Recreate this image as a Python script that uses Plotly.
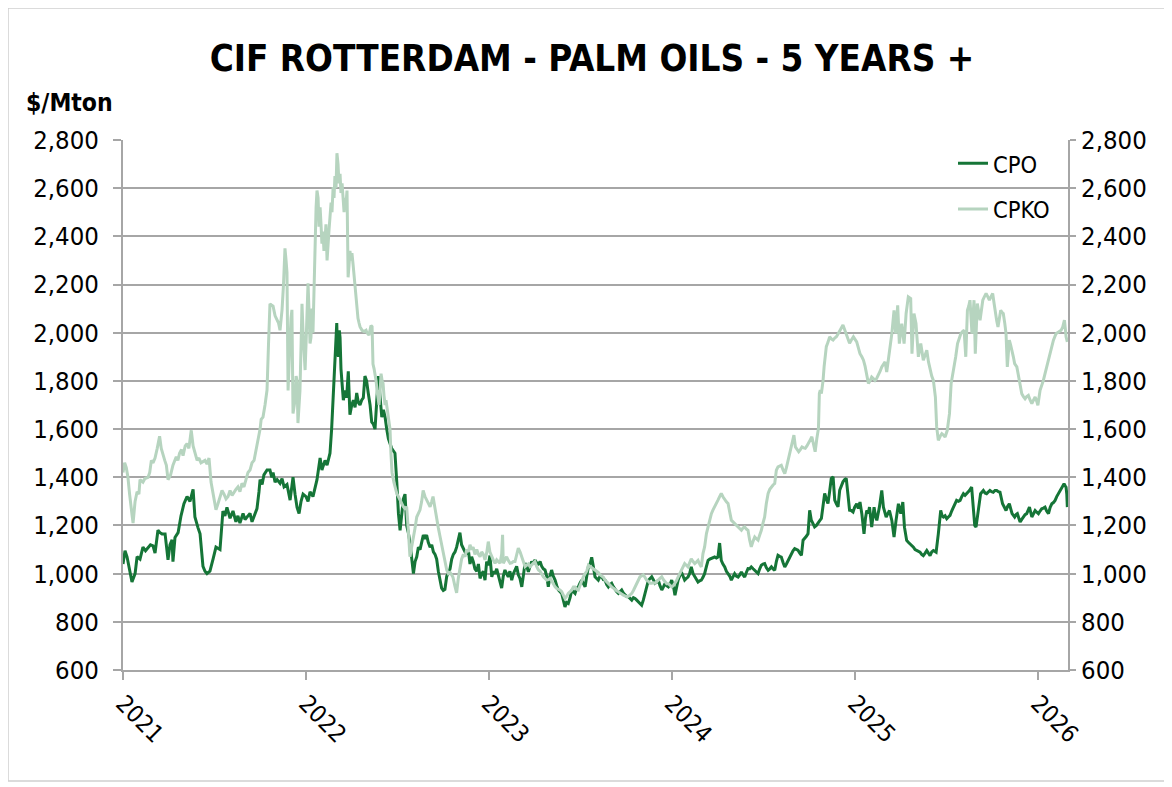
import numpy as np
import pandas as pd
import plotly.graph_objects as go

# ---- data (time as years after 1 Jan 2021, values in $/Mton) ----
cpo_t = [0.000,0.011,0.022,0.038,0.049,0.066,0.077,0.093,0.109,0.123,0.137,0.150,0.164,0.175,0.191,0.202,0.213,0.230,0.246,0.257,0.268,0.273,0.284,0.301,0.317,0.333,0.350,0.366,0.383,0.393,0.410,0.421,0.437,0.448,0.459,0.475,0.492,0.508,0.530,0.546,0.557,0.568,0.585,0.601,0.617,0.628,0.639,0.656,0.667,0.678,0.694,0.705,0.716,0.732,0.743,0.749,0.760,0.770,0.787,0.803,0.813,0.820,0.831,0.842,0.858,0.869,0.880,0.896,0.913,0.929,0.940,0.951,0.962,0.973,0.984,1.000,1.011,1.022,1.038,1.049,1.060,1.077,1.087,1.093,1.104,1.115,1.131,1.140,1.149,1.158,1.164,1.168,1.172,1.177,1.182,1.186,1.191,1.195,1.200,1.204,1.213,1.222,1.231,1.240,1.250,1.259,1.268,1.277,1.286,1.295,1.304,1.313,1.322,1.331,1.340,1.350,1.359,1.368,1.377,1.386,1.395,1.404,1.414,1.423,1.432,1.441,1.450,1.459,1.468,1.477,1.486,1.496,1.505,1.514,1.523,1.532,1.541,1.550,1.559,1.568,1.578,1.587,1.596,1.605,1.614,1.623,1.632,1.641,1.650,1.659,1.668,1.678,1.687,1.696,1.705,1.714,1.723,1.732,1.741,1.750,1.759,1.769,1.778,1.787,1.796,1.805,1.814,1.823,1.832,1.841,1.850,1.860,1.869,1.878,1.887,1.896,1.905,1.914,1.923,1.933,1.942,1.951,1.960,1.969,1.978,1.987,1.996,2.005,2.015,2.024,2.033,2.042,2.060,2.069,2.078,2.087,2.096,2.105,2.114,2.124,2.133,2.142,2.151,2.160,2.169,2.179,2.188,2.197,2.206,2.215,2.224,2.233,2.242,2.251,2.260,2.270,2.279,2.288,2.297,2.306,2.315,2.324,2.333,2.342,2.351,2.361,2.370,2.379,2.388,2.397,2.406,2.415,2.424,2.433,2.443,2.452,2.461,2.470,2.479,2.488,2.497,2.506,2.515,2.525,2.534,2.543,2.552,2.561,2.570,2.579,2.588,2.597,2.607,2.616,2.625,2.634,2.643,2.652,2.661,2.670,2.680,2.689,2.698,2.707,2.716,2.725,2.734,2.743,2.752,2.761,2.770,2.780,2.789,2.798,2.807,2.816,2.825,2.834,2.843,2.852,2.861,2.871,2.880,2.889,2.898,2.907,2.916,2.925,2.934,2.944,2.953,2.962,2.971,2.980,2.989,2.998,3.007,3.016,3.024,3.033,3.042,3.051,3.060,3.069,3.078,3.087,3.096,3.105,3.115,3.124,3.133,3.142,3.151,3.160,3.169,3.178,3.188,3.197,3.206,3.215,3.224,3.233,3.242,3.251,3.260,3.269,3.278,3.288,3.297,3.306,3.315,3.324,3.333,3.342,3.351,3.361,3.370,3.379,3.388,3.397,3.406,3.415,3.424,3.433,3.443,3.452,3.461,3.470,3.479,3.488,3.497,3.506,3.515,3.525,3.534,3.543,3.552,3.561,3.570,3.579,3.588,3.597,3.607,3.616,3.625,3.634,3.643,3.652,3.661,3.670,3.679,3.688,3.698,3.707,3.716,3.725,3.734,3.743,3.752,3.761,3.770,3.779,3.789,3.798,3.807,3.816,3.825,3.834,3.843,3.852,3.861,3.870,3.880,3.889,3.898,3.907,3.916,3.925,3.934,3.943,3.952,3.961,3.970,3.979,3.989,3.998,4.009,4.018,4.027,4.037,4.049,4.057,4.064,4.072,4.079,4.091,4.104,4.111,4.119,4.133,4.146,4.155,4.163,4.170,4.180,4.188,4.201,4.213,4.224,4.230,4.237,4.250,4.261,4.270,4.282,4.291,4.301,4.310,4.319,4.328,4.337,4.346,4.355,4.364,4.373,4.383,4.392,4.401,4.410,4.419,4.428,4.437,4.443,4.455,4.468,4.476,4.483,4.492,4.501,4.510,4.519,4.528,4.537,4.546,4.555,4.565,4.574,4.583,4.592,4.601,4.610,4.625,4.637,4.646,4.654,4.661,4.668,4.674,4.686,4.701,4.710,4.719,4.728,4.737,4.746,4.755,4.765,4.774,4.783,4.792,4.806,4.815,4.825,4.834,4.843,4.858,4.865,4.872,4.880,4.887,4.895,4.902,4.911,4.920,4.929,4.938,4.947,4.953,4.966,4.975,4.984,4.993,5.002,5.011,5.020,5.029,5.038,5.047,5.057,5.066,5.075,5.084,5.093,5.102,5.111,5.120,5.129,5.136,5.142,5.148,5.153,5.157,5.160]
cpo_v = [1040,1095,1070,1000,965,1000,1070,1060,1110,1095,1110,1120,1115,1085,1180,1170,1165,1165,1057,1120,1140,1050,1150,1170,1240,1290,1320,1300,1350,1235,1190,1165,1030,1010,1000,1010,1060,1110,1100,1260,1240,1275,1230,1260,1215,1240,1210,1250,1225,1235,1250,1215,1240,1270,1340,1390,1370,1410,1430,1430,1400,1420,1380,1390,1375,1395,1360,1370,1305,1400,1330,1275,1250,1300,1330,1320,1300,1340,1320,1350,1390,1480,1430,1445,1470,1450,1500,1600,1750,1850,1960,2040,1920,1900,2010,1980,1850,1800,1760,1720,1760,1730,1840,1660,1700,1720,1690,1750,1710,1700,1720,1730,1820,1800,1750,1700,1630,1620,1600,1700,1820,1740,1650,1680,1650,1600,1560,1540,1520,1510,1500,1380,1250,1180,1250,1310,1330,1200,1170,1130,1060,1000,1050,1070,1110,1100,1130,1160,1150,1160,1130,1110,1120,1090,1080,1060,1010,980,940,930,935,990,1000,1020,1060,1080,1090,1110,1140,1170,1120,1100,1090,1080,1100,1040,1070,1050,1020,1010,1040,980,1000,1010,973,1050,1035,1075,987,1010,1000,1020,973,940,990,1015,1000,987,1010,973,1000,1015,1030,995,980,945,1000,1043,1030,1008,1030,1050,1040,1057,1045,1040,1050,1030,1020,1015,990,945,990,1015,990,973,950,932,925,918,890,862,880,876,900,932,925,918,940,945,960,973,960,945,990,1029,1040,1068,1030,987,980,973,990,987,975,973,955,945,955,960,945,932,925,918,925,932,920,911,905,904,895,890,900,897,890,883,875,869,890,918,950,973,980,987,975,960,965,973,950,932,945,960,950,945,955,973,950,910,940,973,990,1007,990,973,980,986,1000,1028,1000,986,975,965,970,973,985,1000,1030,1055,1060,1062,1065,1069,1065,1069,1127,1055,1040,1028,1010,1000,990,973,990,1000,990,986,995,1007,995,986,1005,1021,1020,1028,1020,1014,1008,1000,1020,1035,1040,1042,1025,1014,1020,1028,1020,1014,1050,1076,1072,1069,1045,1028,1040,1055,1070,1083,1095,1104,1100,1097,1085,1076,1139,1145,1155,1166,1263,1222,1210,1194,1200,1208,1220,1229,1280,1333,1310,1291,1340,1395,1402,1305,1290,1277,1346,1365,1381,1390,1395,1330,1263,1262,1256,1276,1290,1270,1297,1249,1165,1230,1262,1250,1276,1193,1276,1240,1221,1276,1345,1276,1250,1235,1250,1262,1221,1152,1221,1260,1290,1249,1297,1193,1138,1130,1124,1115,1110,1100,1096,1092,1089,1080,1075,1085,1096,1085,1075,1090,1096,1092,1089,1165,1262,1240,1235,1240,1228,1235,1242,1260,1276,1290,1304,1300,1304,1320,1332,1325,1332,1345,1359,1249,1200,1193,1230,1262,1332,1345,1335,1332,1340,1345,1340,1338,1345,1345,1340,1338,1290,1275,1262,1280,1290,1249,1240,1235,1245,1249,1230,1214,1225,1235,1245,1249,1265,1276,1235,1250,1262,1255,1249,1260,1269,1272,1276,1260,1249,1275,1290,1295,1304,1320,1332,1345,1359,1366,1373,1365,1359,1330,1276]

cpko_t = [0.000,0.009,0.018,0.027,0.036,0.042,0.050,0.055,0.060,0.066,0.077,0.087,0.093,0.109,0.120,0.137,0.146,0.155,0.164,0.175,0.187,0.200,0.209,0.218,0.228,0.237,0.246,0.253,0.260,0.273,0.284,0.291,0.300,0.309,0.320,0.328,0.340,0.350,0.360,0.373,0.383,0.393,0.405,0.415,0.426,0.437,0.448,0.459,0.470,0.481,0.492,0.503,0.508,0.519,0.530,0.541,0.552,0.563,0.574,0.585,0.596,0.607,0.617,0.628,0.639,0.650,0.661,0.672,0.683,0.694,0.705,0.716,0.727,0.738,0.749,0.755,0.765,0.776,0.787,0.795,0.803,0.811,0.820,0.831,0.842,0.850,0.858,0.869,0.877,0.885,0.891,0.896,0.902,0.907,0.913,0.918,0.923,0.929,0.940,0.946,0.951,0.956,0.962,0.967,0.973,0.978,0.984,0.989,0.995,1.000,1.005,1.011,1.016,1.022,1.027,1.033,1.038,1.044,1.049,1.055,1.060,1.066,1.071,1.077,1.082,1.087,1.093,1.098,1.104,1.109,1.115,1.120,1.126,1.131,1.137,1.142,1.148,1.153,1.158,1.164,1.169,1.175,1.180,1.186,1.191,1.197,1.202,1.208,1.213,1.219,1.224,1.230,1.235,1.240,1.246,1.251,1.257,1.262,1.268,1.273,1.279,1.284,1.290,1.295,1.306,1.317,1.328,1.333,1.344,1.350,1.355,1.361,1.366,1.372,1.377,1.383,1.388,1.394,1.399,1.405,1.410,1.416,1.421,1.426,1.432,1.437,1.443,1.448,1.454,1.459,1.464,1.470,1.480,1.489,1.497,1.505,1.514,1.522,1.530,1.540,1.550,1.559,1.568,1.577,1.585,1.596,1.605,1.614,1.623,1.632,1.640,1.650,1.660,1.669,1.678,1.687,1.694,1.705,1.714,1.723,1.732,1.741,1.749,1.759,1.769,1.778,1.787,1.796,1.803,1.813,1.823,1.832,1.841,1.850,1.860,1.869,1.878,1.887,1.896,1.905,1.913,1.923,1.933,1.942,1.951,1.960,1.969,1.978,1.987,1.996,2.005,2.015,2.024,2.033,2.042,2.051,2.060,2.069,2.074,2.078,2.087,2.096,2.105,2.115,2.124,2.133,2.142,2.151,2.160,2.170,2.179,2.188,2.197,2.206,2.215,2.224,2.233,2.242,2.251,2.260,2.270,2.279,2.288,2.297,2.306,2.315,2.324,2.333,2.342,2.351,2.361,2.370,2.379,2.388,2.397,2.406,2.415,2.424,2.433,2.443,2.452,2.461,2.470,2.479,2.488,2.497,2.506,2.515,2.525,2.534,2.543,2.552,2.561,2.570,2.579,2.588,2.597,2.607,2.616,2.625,2.634,2.643,2.652,2.661,2.670,2.680,2.689,2.698,2.707,2.716,2.725,2.734,2.743,2.752,2.761,2.770,2.780,2.789,2.798,2.807,2.816,2.825,2.834,2.843,2.852,2.861,2.871,2.880,2.889,2.898,2.907,2.916,2.925,2.934,2.944,2.953,2.962,2.971,2.980,2.989,2.998,3.007,3.015,3.024,3.033,3.042,3.051,3.060,3.069,3.078,3.087,3.096,3.105,3.115,3.124,3.133,3.142,3.151,3.160,3.169,3.178,3.188,3.197,3.206,3.215,3.224,3.233,3.242,3.251,3.260,3.269,3.279,3.288,3.297,3.306,3.315,3.324,3.333,3.342,3.351,3.361,3.370,3.379,3.388,3.397,3.406,3.415,3.424,3.433,3.443,3.452,3.461,3.470,3.479,3.488,3.497,3.506,3.515,3.525,3.534,3.543,3.552,3.561,3.570,3.579,3.588,3.597,3.607,3.616,3.625,3.634,3.643,3.652,3.661,3.666,3.674,3.683,3.692,3.701,3.710,3.719,3.728,3.737,3.746,3.755,3.764,3.773,3.782,3.791,3.800,3.805,3.810,3.816,3.825,3.831,3.843,3.852,3.861,3.870,3.880,3.889,3.898,3.907,3.916,3.925,3.934,3.943,3.952,3.961,3.970,3.979,3.991,4.009,4.018,4.027,4.037,4.046,4.055,4.064,4.073,4.082,4.091,4.100,4.109,4.118,4.128,4.137,4.146,4.155,4.164,4.173,4.188,4.201,4.213,4.222,4.233,4.242,4.255,4.268,4.279,4.291,4.304,4.311,4.322,4.333,4.346,4.359,4.373,4.383,4.392,4.401,4.410,4.419,4.428,4.439,4.446,4.455,4.465,4.474,4.483,4.492,4.504,4.516,4.525,4.533,4.541,4.550,4.560,4.569,4.578,4.587,4.596,4.605,4.614,4.621,4.628,4.639,4.650,4.657,4.668,4.683,4.698,4.707,4.716,4.725,4.734,4.743,4.752,4.760,4.767,4.774,4.781,4.789,4.796,4.803,4.810,4.818,4.825,4.832,4.843,4.850,4.858,4.865,4.872,4.884,4.891,4.898,4.905,4.911,4.920,4.929,4.938,4.947,4.957,4.966,4.975,4.984,4.993,4.999,5.011,5.020,5.029,5.038,5.047,5.057,5.066,5.075,5.084,5.098,5.108,5.117,5.126,5.135,5.144,5.150,5.153,5.160]
cpko_v = [1420,1460,1440,1400,1330,1300,1240,1210,1260,1300,1340,1330,1390,1380,1395,1400,1420,1470,1460,1480,1520,1570,1520,1490,1470,1450,1390,1400,1410,1450,1470,1485,1470,1500,1515,1490,1530,1540,1520,1595,1530,1500,1470,1480,1460,1465,1470,1455,1480,1380,1335,1280,1265,1290,1320,1345,1330,1310,1320,1345,1325,1340,1350,1360,1340,1375,1360,1390,1420,1430,1460,1470,1510,1555,1600,1640,1650,1700,1762,1950,2120,2115,2110,2070,2050,2040,2010,2095,2200,2350,2300,2250,1760,1900,1980,2060,2095,1665,1720,1820,1800,1625,1690,1760,1950,2120,2000,1900,1845,1950,2100,2205,2100,1955,1980,2100,2000,2200,2425,2520,2590,2560,2440,2520,2450,2370,2420,2340,2390,2450,2300,2380,2430,2480,2540,2500,2605,2560,2650,2600,2745,2700,2620,2660,2580,2620,2565,2500,2560,2540,2590,2230,2280,2340,2300,2330,2285,2240,2200,2130,2080,2060,2040,2025,2010,2005,2010,2000,1990,2010,2030,2025,1870,1850,1830,1800,1760,1730,1700,1760,1830,1800,1790,1740,1700,1720,1690,1660,1620,1600,1500,1420,1380,1350,1330,1320,1305,1290,1280,1270,1277,1180,1070,1110,1140,1190,1235,1250,1265,1300,1345,1320,1305,1290,1277,1300,1320,1270,1222,1190,1155,1120,1085,1040,1015,1000,1005,995,985,950,920,980,1030,1060,1080,1070,1100,1090,1120,1100,1110,1080,1100,1080,1070,1090,1080,1057,1085,1133,1090,1070,1055,1043,1057,1050,1043,1080,1161,1043,1060,1070,1055,1043,1045,1050,1050,1080,1106,1090,1070,1050,1029,1035,1040,1029,1035,1040,1050,1030,1015,1010,995,987,980,973,975,980,970,955,945,938,935,932,925,910,897,905,918,925,932,945,945,935,932,950,970,987,1000,1010,1035,1030,1022,1020,1015,1010,1005,995,990,985,973,965,960,953,945,940,932,928,925,918,915,911,908,904,906,910,918,930,945,960,975,987,990,995,985,973,968,960,960,962,960,965,973,980,987,975,965,958,958,950,945,950,958,970,986,1000,1014,1030,1042,1035,1028,1045,1062,1050,1042,1048,1055,1040,1028,1083,1111,1166,1194,1230,1249,1265,1277,1290,1305,1320,1333,1318,1305,1298,1291,1260,1222,1215,1208,1200,1194,1185,1180,1190,1194,1185,1180,1140,1111,1135,1152,1145,1139,1160,1180,1210,1235,1290,1333,1350,1360,1368,1374,1429,1443,1445,1450,1430,1415,1440,1471,1500,1526,1560,1575,1526,1515,1506,1515,1526,1522,1520,1530,1540,1555,1568,1540,1506,1560,1603,1748,1762,1748,1800,1859,1942,1960,1983,1975,1970,1978,1983,1995,2011,2020,2032,2015,1997,1975,1956,1969,1983,1962,1940,1913,1900,1886,1860,1830,1789,1800,1816,1810,1802,1810,1823,1840,1858,1870,1879,1837,1920,1996,2093,1996,2114,1955,2038,1955,2080,2149,2142,1913,2080,2038,1900,1955,1886,1910,1927,1880,1844,1820,1802,1733,1609,1553,1570,1581,1575,1567,1595,1664,1789,1820,1858,1900,1955,1975,1996,2005,2010,1900,2093,2110,2135,1996,2135,1913,2121,2052,2135,2150,2163,2150,2135,2150,2163,2120,2080,2050,2024,2060,2093,2085,2080,2040,1996,1858,1969,1950,1927,1900,1872,1858,1830,1802,1775,1747,1735,1726,1735,1740,1720,1706,1720,1733,1715,1699,1761,1780,1802,1830,1858,1885,1913,1940,1969,1996,2000,2003,2010,2024,2052,2010,1983,1962]

start_date = "2021-01-01"
end_date = "2026-03-02"
year_ticks = ["2021-01-01", "2022-01-01", "2023-01-01", "2024-01-01", "2025-01-01", "2026-01-01"]
year_labels = ["2021", "2022", "2023", "2024", "2025", "2026"]
y_ticks = [600, 800, 1000, 1200, 1400, 1600, 1800, 2000, 2200, 2400, 2600, 2800]

def to_dates(t):
    return pd.Timestamp(start_date) + pd.to_timedelta(np.array(t) * 365.25, unit="D")

FONT = "DejaVu Sans Condensed, DejaVu Sans, sans-serif"
GRID = "#a6a6a6"

fig = go.Figure()
fig.add_trace(go.Scatter(x=to_dates(cpo_t), y=cpo_v, name="CPO", mode="lines",
                         line=dict(color="#157537", width=3), legendgroup="a"))
fig.add_trace(go.Scatter(x=to_dates(cpko_t), y=cpko_v, name="CPKO", mode="lines", yaxis="y2",
                         line=dict(color="#b6d4bf", width=3), legendgroup="b"))

tick_text = [f"{v:,}" for v in y_ticks]
fig.update_layout(
    width=1172, height=787,
    margin=dict(l=115, r=112, t=132, b=125),
    paper_bgcolor="white", plot_bgcolor="white",
    font=dict(family=FONT, size=25, color="black"),
    title=dict(text="<b>CIF ROTTERDAM - PALM OILS - 5 YEARS +</b>", x=(592 - 8) / 1172, xanchor="center",
               y=1 - 50 / 787, yanchor="middle", font=dict(family=FONT, size=36.5, color="black")),
    xaxis=dict(type="date", range=[start_date, end_date], tickvals=year_ticks, ticktext=year_labels,
               tickangle=45, showgrid=False, showline=True, linecolor=GRID, linewidth=2,
               ticks="outside", ticklen=8, tickwidth=2, tickcolor=GRID, zeroline=False,
               tickfont=dict(size=24)),
    yaxis=dict(range=[600, 2800], tickvals=y_ticks, ticktext=tick_text, showgrid=True,
               gridcolor=GRID, gridwidth=2, showline=True, linecolor=GRID, linewidth=2,
               ticks="outside", ticklen=8, tickwidth=2, tickcolor=GRID, zeroline=False,
               ticklabelstandoff=9, tickfont=dict(size=25.5)),
    yaxis2=dict(range=[600, 2800], tickvals=y_ticks, ticktext=tick_text, overlaying="y", side="right",
                showgrid=False, showline=True, linecolor=GRID, linewidth=2, ticks="outside",
                ticklen=6, tickwidth=2, tickcolor=GRID, zeroline=False, ticklabelstandoff=0,
                tickfont=dict(size=25.5)),
    legend=dict(x=(953 - 123) / 945, y=0.997, xanchor="left", yanchor="top", bgcolor="rgba(0,0,0,0)",
                font=dict(size=23.5), tracegroupgap=12, itemwidth=30),
    showlegend=True,
)
fig.add_annotation(text="<b>$/Mton</b>", xref="paper", yref="paper", x=(24 - 123) / 945, y=(670 - 102) / 530,
                   xanchor="left", yanchor="middle", showarrow=False, font=dict(family=FONT, size=24.5))
# outer chart frame
fig.add_shape(type="rect", xref="paper", yref="paper", x0=(8 - 123) / 945, x1=(1165 - 123) / 945,
              y0=(670 - 781) / 530, y1=(670 - 8) / 530, line=dict(color="#d0d0d0", width=1.5), layer="below")

fig.write_html("out.html")
